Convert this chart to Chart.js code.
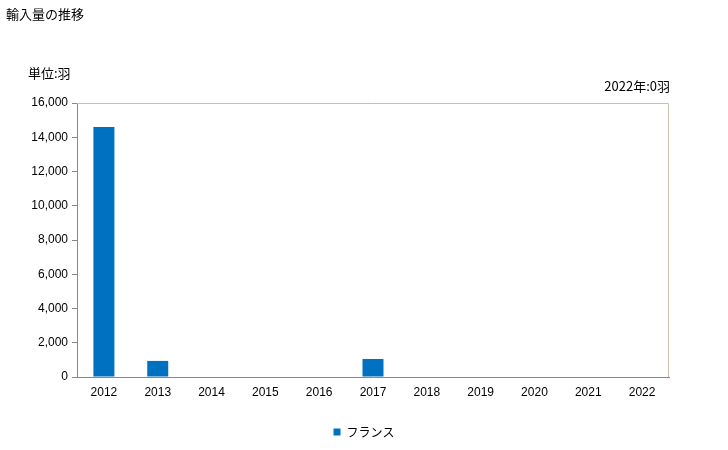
<!DOCTYPE html>
<html>
<head>
<meta charset="utf-8">
<script src="https://cdn.jsdelivr.net/npm/chart.js@4"></script>
<style>
    body { margin: 0; background: #fff; font-family: "Noto Sans CJK JP", sans-serif; }
    #wrap { position: relative; width: 728px; height: 450px; }
    .label { position: absolute; font-size: 13px; color: #000; white-space: nowrap; }
    #title { left: 6px; top: 4px; }
    #unit { left: 28px; top: 63px; }
    #note { right: 58px; top: 76px; }
</style>
</head>
<body>
<div id="wrap">
    <canvas id="chart" width="728" height="450"></canvas>
    <div class="label" id="title">輸入量の推移</div>
    <div class="label" id="unit">単位:羽</div>
    <div class="label" id="note">2022年:0羽</div>
</div>
<script>
// 輸入量（羽）
const years = ['2012', '2013', '2014', '2015', '2016', '2017', '2018', '2019', '2020', '2021', '2022'];
const franceValues = [14600, 940, 0, 0, 0, 1050, 0, 0, 0, 0, 0];
const seriesName = 'フランス';

// ===== 枠線（上・右） =====
const frame = {
    id: 'frame',
    afterDraw(chart) {
        const { ctx, chartArea: a } = chart;
        ctx.save();
        ctx.strokeStyle = '#c8c2ae';
        ctx.lineWidth = 1;
        ctx.beginPath();
        ctx.moveTo(a.left, a.top + 0.5);
        ctx.lineTo(a.right - 0.5, a.top + 0.5);
        ctx.lineTo(a.right - 0.5, a.bottom);
        ctx.stroke();
        ctx.restore();
    }
};

new Chart(document.getElementById('chart'), {
    type: 'bar',
    data: {
        labels: years,
        datasets: [{
            label: seriesName,
            data: franceValues,
            backgroundColor: '#0070c0',
            barPercentage: 0.78,
            categoryPercentage: 0.5
        }]
    },
    options: {
        responsive: false,
        animation: false,
        layout: { padding: { top: 103, right: 0, left: 0, bottom: 2 } },
        plugins: {
            legend: {
                position: 'bottom',
                labels: {
                    boxWidth: 7,
                    boxHeight: 7,
                    padding: 10,
                    color: '#000',
                    font: { family: '"Noto Sans CJK JP", sans-serif', size: 12 }
                }
            },
            tooltip: { enabled: false }
        },
        scales: {
            x: {
                afterFit(scale) { scale.height = 39; },
                grid: { display: false },
                border: { color: '#888', width: 1 },
                ticks: {
                    color: '#000',
                    padding: 0,
                    font: { family: '"Liberation Sans", Arial, sans-serif', size: 12 }
                }
            },
            y: {
                min: 0,
                max: 16000,
                afterFit(scale) { scale.width = 77; },
                grid: { drawOnChartArea: false, drawTicks: true, tickLength: 5, color: '#888' },
                border: { color: '#888', width: 1 },
                ticks: {
                    stepSize: 2000,
                    color: '#000',
                    padding: 4,
                    font: { family: '"Liberation Sans", Arial, sans-serif', size: 12 },
                    callback: v => v.toLocaleString('en-US')
                }
            },
            // 右余白用の空軸
            yRight: {
                position: 'right',
                afterFit(scale) { scale.width = 59; },
                grid: { display: false },
                border: { display: false },
                ticks: { display: false }
            }
        }
    },
    plugins: [frame]
});
</script>
</body>
</html>
